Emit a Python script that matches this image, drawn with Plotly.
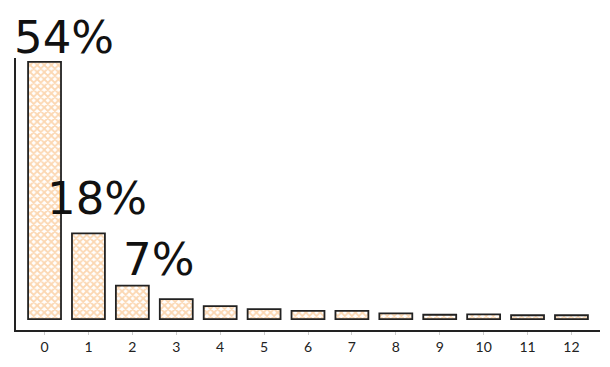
import plotly.graph_objects as go

categories = [str(i) for i in range(13)]
values = [54, 18, 7, 4.2, 2.7, 2.1, 1.7, 1.7, 1.2, 0.9, 1.0, 0.8, 0.8]
label_idx = [0, 1, 2]
label_text = ["54%", "18%", "7%"]
label_xshift = [19, 9, 26]
label_yshift = [24, 35, 26]

fig = go.Figure()
fig.add_trace(go.Bar(
    x=categories, y=values, width=0.75,
    marker=dict(
        color="white",
        line=dict(color="#222222", width=1.8),
        pattern=dict(shape="x", fgcolor="#f8b066", bgcolor="white", size=5, solidity=0.6),
    ),
    hoverinfo="skip",
))

for i, t, xs, ys in zip(label_idx, label_text, label_xshift, label_yshift):
    fig.add_annotation(
        x=categories[i], y=values[i], text=t, showarrow=False,
        xanchor="center", yanchor="middle", xshift=xs, yshift=ys,
        font=dict(family="DejaVu Sans", size=45, color="#111111"),
    )

fig.update_layout(
    width=610, height=367,
    margin=dict(l=16, r=10, t=58, b=37),
    paper_bgcolor="white", plot_bgcolor="white",
    showlegend=False, bargap=0.25,
    xaxis=dict(
        type="category", range=[-0.65, 12.65],
        showline=True, linecolor="#222222", linewidth=1.6,
        showgrid=False, ticks="outside", ticklen=3, tickcolor="#cccccc",
        tickfont=dict(family="Lato", size=14, color="#222222"),
        zeroline=False,
    ),
    yaxis=dict(
        range=[-2.3, 54.8], showline=True, linecolor="#222222", linewidth=1.6,
        showgrid=False, showticklabels=False, zeroline=False, ticks="",
    ),
)

fig.write_html("out.html")
